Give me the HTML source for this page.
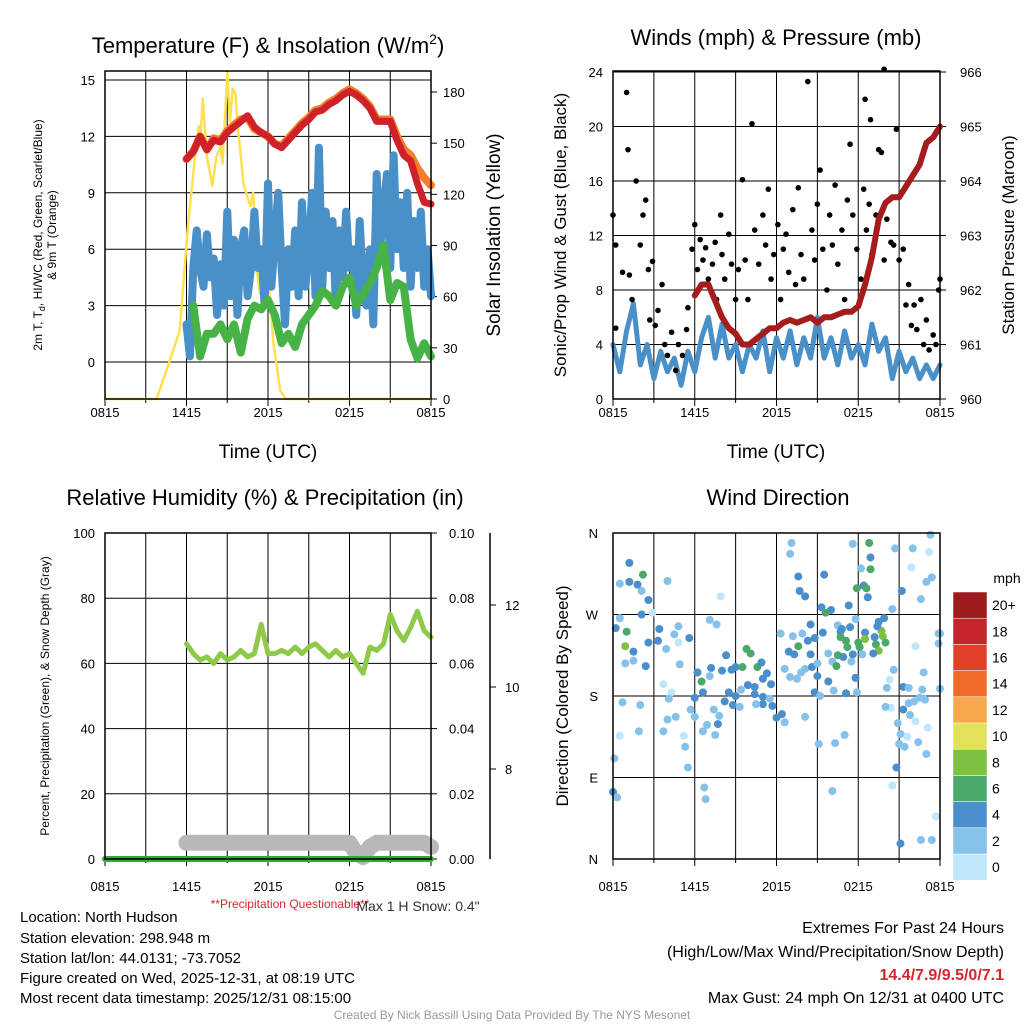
<!DOCTYPE html>
<html><head><meta charset="utf-8">
<style>
html,body{margin:0;padding:0;background:#fff;}
svg{display:block;font-family:"Liberation Sans",sans-serif;}
</style></head>
<body>
<svg id="c" width="1024" height="1024" viewBox="0 0 1024 1024" xmlns="http://www.w3.org/2000/svg">
<g id="static">
<text x="268" y="53" font-size="22" text-anchor="middle">Temperature (F) &amp; Insolation (W/m<tspan dy="-9" font-size="14">2</tspan><tspan dy="9">)</tspan></text>
<text x="776" y="45" font-size="22" text-anchor="middle">Winds (mph) &amp; Pressure (mb)</text>
<text x="265" y="505" font-size="22" text-anchor="middle">Relative Humidity (%) &amp; Precipitation (in)</text>
<text x="778" y="505" font-size="22" text-anchor="middle">Wind Direction</text>
<text x="268" y="458" font-size="19" text-anchor="middle">Time (UTC)</text>
<text x="776" y="458" font-size="19" text-anchor="middle">Time (UTC)</text>
<text transform="translate(42,235) rotate(-90)" font-size="12" text-anchor="middle">2m T, T<tspan dy="3" font-size="9">d</tspan><tspan dy="-3">, HI/WC (Red, Green, Scarlet/Blue)</tspan></text>
<text transform="translate(56,235) rotate(-90)" font-size="12" text-anchor="middle">&amp; 9m T (Orange)</text>
<text transform="translate(500,235) rotate(-90)" font-size="19" text-anchor="middle">Solar Insolation (Yellow)</text>
<text transform="translate(566,235) rotate(-90)" font-size="17" text-anchor="middle">Sonic/Prop Wind &amp; Gust (Blue, Black)</text>
<text transform="translate(1014,235) rotate(-90)" font-size="17" text-anchor="middle">Station Pressure (Maroon)</text>
<text transform="translate(49,696) rotate(-90)" font-size="12" text-anchor="middle">Percent, Precipitation (Green), &amp; Snow Depth (Gray)</text>
<text transform="translate(568,696) rotate(-90)" font-size="17" text-anchor="middle">Direction (Colored By Speed)</text>
<text x="290" y="908" font-size="12" fill="#d7262b" text-anchor="middle">**Precipitation Questionable**</text>
<text x="418" y="911" font-size="14" fill="#333" text-anchor="middle">Max 1 H Snow: 0.4"</text>
<g font-size="15">
<text x="20" y="922">Location: North Hudson</text>
<text x="20" y="943">Station elevation: 298.948 m</text>
<text x="20" y="963">Station lat/lon: 44.0131; -73.7052</text>
<text x="20" y="983">Figure created on Wed, 2025-12-31, at 08:19 UTC</text>
<text x="20" y="1003">Most recent data timestamp: 2025/12/31 08:15:00</text>
</g>
<g font-size="16" text-anchor="end">
<text x="1004" y="933">Extremes For Past 24 Hours</text>
<text x="1004" y="957">(High/Low/Max Wind/Precipitation/Snow Depth)</text>
<text x="1004" y="980" fill="#d7262b" font-weight="bold">14.4/7.9/9.5/0/7.1</text>
<text x="1004" y="1003">Max Gust: 24 mph On 12/31 at 0400 UTC</text>
</g>
<text x="512" y="1019" font-size="12" fill="#999" text-anchor="middle">Created By Nick Bassill Using Data Provided By The NYS Mesonet</text>
</g>
</svg>
<script>
// ---- data ----
const xTickLabels = ["0815","1415","2015","0215","0815"];
const tempTicks = [0,3,6,9,12,15];
const solarTicks = [0,30,60,90,120,150,180];
const windTicks = [0,4,8,12,16,20,24];
const pressTicks = [960,961,962,963,964,965,966];
const rhTicks = [0,20,40,60,80,100];
const precipTicks = ["0.00","0.02","0.04","0.06","0.08","0.10"];
const snowTicks = [8,10,12];
const dirTicks = ["N","E","S","W","N"];
const speedBins = ["0","2","4","6","8","10","12","14","16","18","20+"];
const speedColors = ["#bfe6fa","#85c1e9","#4a8fcb","#4aa86a","#7dc142","#e5e05a","#f6a84a","#f06a2a","#e3402a","#c4242a","#9c1b1f"];

const tempStart = 6;
const tempRed = [10.8,11.2,12.0,11.3,11.8,11.7,12.2,12.5,12.8,13.1,12.5,12.2,12.0,11.6,11.4,11.8,12.2,12.6,12.9,13.3,13.4,13.7,13.9,14.2,14.4,14.2,13.9,13.5,12.8,12.8,12.8,11.8,11.0,10.7,9.5,8.5,8.4];
const tempOrange = [10.8,11.2,12.0,11.3,11.9,11.8,12.3,12.6,12.9,13.0,12.4,12.2,12.0,11.6,11.5,11.9,12.3,12.7,13.0,13.4,13.5,13.8,14.0,14.3,14.5,14.3,14.0,13.6,12.9,12.9,12.9,12.0,11.3,11.0,10.3,9.8,9.4];
const hiwc = [2,0.3,5,7,5,4,6.8,4.5,5.5,2.5,5.2,3,8,3.5,6.5,2.5,6,7,3.5,5,8,5,6,3,9.5,4,6.5,9,5,2,6,4,7,3.5,8.5,4,6,9,3.5,11.4,4,8,5,7.5,3,7,4.5,8,5,6,2.5,7.5,4,3,6,2,10,6,8,10,5,11,6,8.5,5,9,4,7.5,5,8,4,6,3.5];
const dewStart = 6.5;
const dew = [3,0.3,1.5,1.5,2.0,1.2,2.0,0.5,2.3,3.0,2.8,3.3,2.5,1.0,1.5,0.8,2.0,2.5,3.0,3.8,3.5,3.0,4.0,4.5,3.0,3.6,4.2,5.0,6.2,3.3,4.2,4.0,1.2,0.2,1.0,0.3];
const solarHours = [0,3.8,4.66,5.5,6.1,6.6,6.9,7.0,7.2,7.5,7.9,8.2,8.5,8.65,8.8,9.0,9.2,9.4,9.6,9.8,10.2,10.7,10.9,11.2,11.4,11.8,12.0,12.4,12.9,13.3,24];
const solarVals = [0,0,20,40,101,140,160,150,176,142,125,142,148,138,160,191,163,182,179,158,126,113,121,74,62,94,74,33,5,0,0];

const windVals = [4,2,5,7,2.5,4,1.5,3.5,2,3,1,3.5,2,4.5,6,3,5.5,3,4,2,4,3,5,2,4.5,3,5,2.5,4.5,3,6,3,4.5,2.5,5,3,4,2.5,5.5,3.5,4.5,1.5,3.5,2,3,1.5,2.5,1.5,2.5];
const gustHours = [0,0.2,0.2,0.7,1.0,1.1,1.2,1.4,1.7,2,2.2,2.4,2.6,2.7,2.9,3.1,3.3,3.6,3.8,4,4.3,4.6,4.8,5.1,5.4,5.5,5.8,6.0,6.2,6.4,6.6,6.8,7,7.3,7.5,7.6,7.9,8,8.2,8.5,8.7,9,9.2,9.5,9.7,9.9,10.2,10.4,10.7,11,11.2,11.4,11.6,11.8,12.1,12.3,12.5,12.7,12.9,13.2,13.4,13.6,13.8,14,14.3,14.6,14.8,15,15.2,15.4,15.7,15.9,16.1,16.3,16.5,16.8,17,17.2,17.4,17.6,17.9,18.2,18.4,18.6,18.8,19,19.3,19.5,19.7,19.9,20.1,20.4,20.6,18.5,18.9,19.9,20.8,21,21.3,21.5,21.7,21.9,22.1,22.3,22.6,22.8,23,23.2,23.5,23.7,23.9,24];
const gustVals = [13.5,11.3,5.2,9.3,22.5,18.3,9.1,7.3,16,11.3,13.5,14.6,9.5,5.8,10.1,5.4,6.5,8.4,4,3.2,4.9,2.1,4,3.2,5.1,6.7,11,12.8,9.5,11.7,10.2,11.1,8.8,9.9,11.5,7.3,13.5,10.6,8.8,12.1,9.9,7.3,9.5,16.1,10.2,7.3,20.2,12.4,9.9,13.5,11.3,15.4,8.8,10.6,12.8,7.3,11,12.1,9.3,13.9,8.4,15.5,10.6,8.8,23.3,12.4,10.2,14.3,16.8,11,8,13.5,11.3,15.7,9.9,12.4,7.3,14.6,18.7,13.5,11,8.8,15.4,12.4,14.3,10.6,13.5,18.3,18.1,10.2,13.2,11.5,11.3,22,20.5,24.2,19.8,10.2,11,6.9,8.4,5.4,6.9,5.1,7.3,4,5.8,3.6,4.7,4,8,8.8];
const pressStart = 6;
const pressVals = [961.9,962.1,962.1,961.8,961.5,961.3,961.2,961.0,961.0,961.1,961.2,961.3,961.3,961.4,961.45,961.4,961.45,961.5,961.4,961.5,961.5,961.55,961.6,961.6,961.7,962.1,962.6,963.3,963.6,963.7,963.7,963.9,964.1,964.3,964.7,964.8,965.0];

const rhStart = 6;
const rhVals = [66,63,61,62,60,63,61,62,64,62,63,72,63,63,64,63,65,63,65,66,64,62,64,62,63,60,57,65,64,66,75,70,67,71,76,70,68];
const snowVals = [6.2,6.2,6.2,6.2,6.2,6.2,6.2,6.2,6.2,6.2,6.2,6.2,6.2,6.2,6.2,6.2,6.2,6.2,6.2,6.2,6.2,6.2,6.2,6.2,6.2,5.95,5.85,6.1,6.2,6.2,6.2,6.2,6.2,6.2,6.2,6.2,6.1];
const precipVals = [0,0,0,0,0,0,0,0,0,0,0,0,0,0,0,0,0,0,0,0,0,0,0,0,0];

const dirHours = [1.2,2.2,0.5,1.2,1.8,2.1,2.6,4.0,2.1,0.5,0.2,1.0,0.9,1.5,0.9,1.5,2.4,2.6,3.3,3.4,3.9,4.5,4.8,4.8,5.6,4.9,2.9,7.9,7.1,7.6,3.7,4.3,4.1,0.7,2.0,0.5,1.9,0.1,0,0.3,4.0,4.6,3.7,5.2,5.3,5.5,5.7,6.0,6.0,6.2,6.5,6.6,7.1,7.2,7.4,7.8,7.7,6.9,6.6,7.5,6.7,6.8,8.3,8.0,8.7,9.0,9.5,9.8,10.1,10.6,10.9,11.3,11.6,11.0,10.4,9.9,9.4,9.0,8.5,8.2,8.8,9.3,10.4,11.0,11.0,11.7,12.0,12.4,12.6,10.5,11.5,12.3,13.1,13.0,13.6,13.7,14.1,12.6,13.0,12.9,13.3,13.2,13.6,13.9,14.3,14.5,14.8,13.5,13.8,14.1,14.6,15.0,15.0,14.5,14.8,14.1,15.2,15.1,15.5,15.3,16.0,15.6,15.4,15.8,15.8,16.1,16.3,16.1,16.2,16.5,16.7,16.8,16.7,17.1,17.2,16.5,16.4,16.9,17.5,17.6,17.1,17.0,17.3,17.4,17.8,17.8,17.9,17.6,18.2,17.9,18.4,18.6,18.7,18.9,18.9,18.8,18.0,18.1,18.3,18.5,18.5,19.2,19.3,19.5,19.1,19.7,19.8,20.0,19.5,19.9,19.4,20.6,20.3,20.4,20.1,20.0,20.5,20.7,21.2,22.0,21.9,23.0,23.4,22.6,23.3,23.2,22.2,23.9,23.9,22.8,22.7,21.3,21.7,22.5,22.9,22.1,21.7,21.3,21.8,22.2,20.9,21.1,21.6,21.0,21.4,22.4,23.1,23.0,20.8,20.5,23.7,21.1,22.6,23.4,24,24];
const dirDegs = [327,314,304,306,303,296,286,307,270,266,255,251,235,229,216,219,213,239,241,254,232,248,257,239,244,215,272,290,264,259,193,184,177,173,170,136,141,111,74,68,154,157,141,136,124,101,165,157,178,206,196,184,202,211,165,158,149,148,141,137,79,66,225,208,209,212,212,232,227,212,217,205,193,199,190,192,187,180,184,174,170,168,182,179,171,169,156,160,151,171,177,249,349,337,312,296,290,210,201,229,226,246,235,249,241,259,244,199,206,210,212,216,202,226,184,157,180,127,314,278,275,272,250,227,196,218,128,75,186,258,251,254,245,241,234,225,213,223,218,226,183,137,280,256,265,200,184,348,321,299,302,299,289,333,320,349,239,234,226,250,243,245,237,230,227,252,246,239,262,266,257,209,198,167,189,168,276,343,296,343,322,306,311,287,358,339,235,249,238,206,187,190,189,178,176,174,172,165,159,152,150,138,135,127,124,129,145,116,101,81,47,17,21,21,188,249];
const dirSpeeds = [4,6,2,4,4,2,4,2,4,2,4,6,8,4,2,2,4,4,4,4,2,2,2,1,4,2,1,0,2,2,1,1,2,2,2,1,2,2,4,2,2,2,2,1,2,2,2,2,4,4,6,4,2,4,2,2,4,2,2,2,2,2,4,4,4,4,6,6,6,6,4,4,4,4,4,4,2,4,4,4,4,2,4,4,4,4,4,4,2,2,2,2,2,2,4,4,4,2,2,4,4,2,6,2,4,4,4,2,2,2,4,2,4,4,4,2,2,2,4,4,4,6,4,2,4,2,2,2,2,2,4,4,6,6,6,6,6,4,2,4,4,2,4,4,2,4,2,2,2,6,4,6,4,4,6,6,6,6,2,4,8,4,6,8,4,8,8,6,4,4,4,2,1,1,2,2,2,2,4,2,1,2,2,2,2,1,1,2,2,2,2,4,2,2,2,2,2,4,2,1,2,2,1,2,2,2,1,2,4,1,1,4,2,2,2,2];

// ---- rendering ----
const NS = "http://www.w3.org/2000/svg";
const svg = document.getElementById('c');
function mk(tag, attrs, parent){
  const e = document.createElementNS(NS, tag);
  for (const k in attrs) e.setAttribute(k, attrs[k]);
  (parent||svg).appendChild(e);
  return e;
}
const P = {
  tl:{x0:105,y0:71,w:326,h:328,lab:18},
  tr:{x0:613,y0:71,w:327,h:328,lab:18},
  bl:{x0:105,y0:533,w:326,h:326,lab:32},
  br:{x0:613,y0:533,w:327,h:326,lab:32}
};
function xs(p,h){ return p.x0 + h*p.w/24; }
function lin(d0,d1,r0,r1){ return v => r0 + (v-d0)*(r1-r0)/(d1-d0); }
const yTemp = lin(0,15,362,80);
const ySolar = lin(0,180,399,92);
const yWind = lin(0,24,399,72);
const yPress = lin(960,966,399,72);
const yRH = lin(0,100,859,533);
const yPrecip = lin(0,0.1,859,533);
const ySnow = lin(8,12,769,605);
const yDir = lin(0,360,859,533);

function frame(p, name){
  const g = mk('g',{});
  
  
  for (let i=0;i<=8;i++){
    const x = xs(p,i*3);
    const l = mk('line',{x1:x,x2:x,y1:p.y0,y2:p.y0+p.h,stroke:'#000','stroke-width':1},g);
    
    
    const t = mk('line',{x1:x,x2:x,y1:p.y0+p.h,y2:p.y0+p.h+(i%2==0?7:4),stroke:'#000','stroke-width':1},g);
    
    
  }
  xTickLabels.forEach((s,i)=>{
    const t = mk('text',{x:xs(p,i*6),y:p.y0+p.h+p.lab,'font-size':13,'text-anchor':'middle'},g);
    t.textContent = s;
    
    
  });
  return g;
}
function hgrid(g,p,y){
  const l = mk('line',{x1:p.x0,x2:p.x0+p.w,y1:y,y2:y,stroke:'#000','stroke-width':1},g);
  
  
}
function border(g,p){
  const r = mk('rect',{x:p.x0,y:p.y0,width:p.w,height:p.h,fill:'none',stroke:'#000','stroke-width':1.5},g);
  
  
}
function label(g,x,y,s,anchor,name,size){
  const t = mk('text',{x:x,y:y+5,'font-size':size||13,'text-anchor':anchor},g);
  t.textContent = s;
  
  
}
function rtick(g,x,y,name){
  const l = mk('line',{x1:x,x2:x+6,y1:y,y2:y,stroke:'#000'},g);
  
  
}
function series(g,p,start,step,vals,yf,color,width,name){
  const pts = vals.map((v,i)=>xs(p,start+i*step).toFixed(1)+','+yf(v).toFixed(1)).join(' ');
  const l = mk('polyline',{points:pts,fill:'none',stroke:color,'stroke-width':width,'stroke-linejoin':'round','stroke-linecap':'round'},g);
  
  
  return l;
}

// Panel 1
let g1 = frame(P.tl,'temperature-panel');
tempTicks.forEach(v=>{ hgrid(g1,P.tl,yTemp(v)); label(g1,P.tl.x0-10,yTemp(v),String(v),'end','temp-tick-label'); });
solarTicks.forEach(v=>{ rtick(g1,P.tl.x0+P.tl.w,ySolar(v),'solar-tick'); label(g1,P.tl.x0+P.tl.w+12,ySolar(v),String(v),'start','solar-tick-label'); });
{
  const pts = solarHours.map((h,i)=>xs(P.tl,h).toFixed(1)+','+ySolar(solarVals[i]).toFixed(1)).join(' ');
  const l = mk('polyline',{points:pts,fill:'none',stroke:'#ffe050','stroke-width':2.5,'stroke-linejoin':'round'},g1);
  
  
}
series(g1,P.tl,tempStart,0.25,hiwc,yTemp,'#4a90c8',8,'heat-index-windchill-line');
series(g1,P.tl,dewStart,0.5,dew,yTemp,'#47b347',8,'dewpoint-line');
series(g1,P.tl,tempStart,0.5,tempOrange,yTemp,'#f47c2a',8,'temperature-9m-line');
series(g1,P.tl,tempStart,0.5,tempRed,yTemp,'#d0202a',7,'temperature-2m-line');
border(g1,P.tl);

// Panel 2
let g2 = frame(P.tr,'winds-panel');
windTicks.forEach(v=>{ hgrid(g2,P.tr,yWind(v)); label(g2,P.tr.x0-10,yWind(v),String(v),'end','wind-tick-label'); });
pressTicks.forEach(v=>{ rtick(g2,P.tr.x0+P.tr.w,yPress(v),'pressure-tick'); label(g2,P.tr.x0+P.tr.w+20,yPress(v),String(v),'start','pressure-tick-label'); });
series(g2,P.tr,0,0.5,windVals,yWind,'#4a90c8',5,'wind-speed-line');
gustHours.forEach((h,i)=>{
  const c = mk('circle',{cx:xs(P.tr,h),cy:yWind(gustVals[i]),r:2.8,fill:'#000'},g2);
  
  
});
series(g2,P.tr,pressStart,0.5,pressVals,yPress,'#a51c1c',6,'pressure-line');
border(g2,P.tr);

// Panel 3
let g3 = frame(P.bl,'humidity-panel');
rhTicks.forEach(v=>{ hgrid(g3,P.bl,yRH(v)); label(g3,P.bl.x0-10,yRH(v),String(v),'end','rh-tick-label'); });
precipTicks.forEach(s=>{ const v=parseFloat(s); rtick(g3,P.bl.x0+P.bl.w,yPrecip(v),'precip-tick'); label(g3,P.bl.x0+P.bl.w+18,yPrecip(v),s,'start','precip-tick-label'); });
{
  const ax = mk('line',{x1:490,x2:490,y1:533,y2:859,stroke:'#000','stroke-width':1.5},g3);
  
  
  snowTicks.forEach(v=>{ rtick(g3,490,ySnow(v),'snow-tick'); label(g3,505,ySnow(v),String(v),'start','snow-tick-label'); });
}
series(g3,P.bl,rhStart,0.5,snowVals,ySnow,'#b8b8b8',16,'snow-depth-line');
series(g3,P.bl,0,1,precipVals,yPrecip,'#3aa63a',6,'precipitation-line');
series(g3,P.bl,rhStart,0.5,rhVals,yRH,'#8fc94a',5,'relative-humidity-line');
border(g3,P.bl);

// Panel 4
let g4 = frame(P.br,'wind-direction-panel');
dirTicks.forEach((s,i)=>{ const v=i*90; hgrid(g4,P.br,yDir(v)); label(g4,P.br.x0-15,yDir(v),s,'end','direction-tick-label'); });
dirHours.forEach((h,i)=>{
  const bin = Math.min(10, Math.floor(dirSpeeds[i]/2));
  const c = mk('circle',{cx:xs(P.br,h),cy:yDir(dirDegs[i]),r:4,fill:speedColors[bin]},g4);
  
  
});
border(g4,P.br);
// colorbar
{
  const cb = mk('g',{});
  
  
  label(cb,1007,578,'mph','middle','colorbar-title',14);
  const n = speedBins.length, top=592, bh=26.2;
  speedBins.forEach((s,i)=>{
    const y = top + (n-1-i)*bh;
    const r = mk('rect',{x:953,y:y,width:34,height:bh,fill:speedColors[i],stroke:'#fff','stroke-width':0.5},cb);
    
    
    label(cb,992,y+bh/2,s,'start','colorbar-label',14);
  });
}
</script>
</body></html>
